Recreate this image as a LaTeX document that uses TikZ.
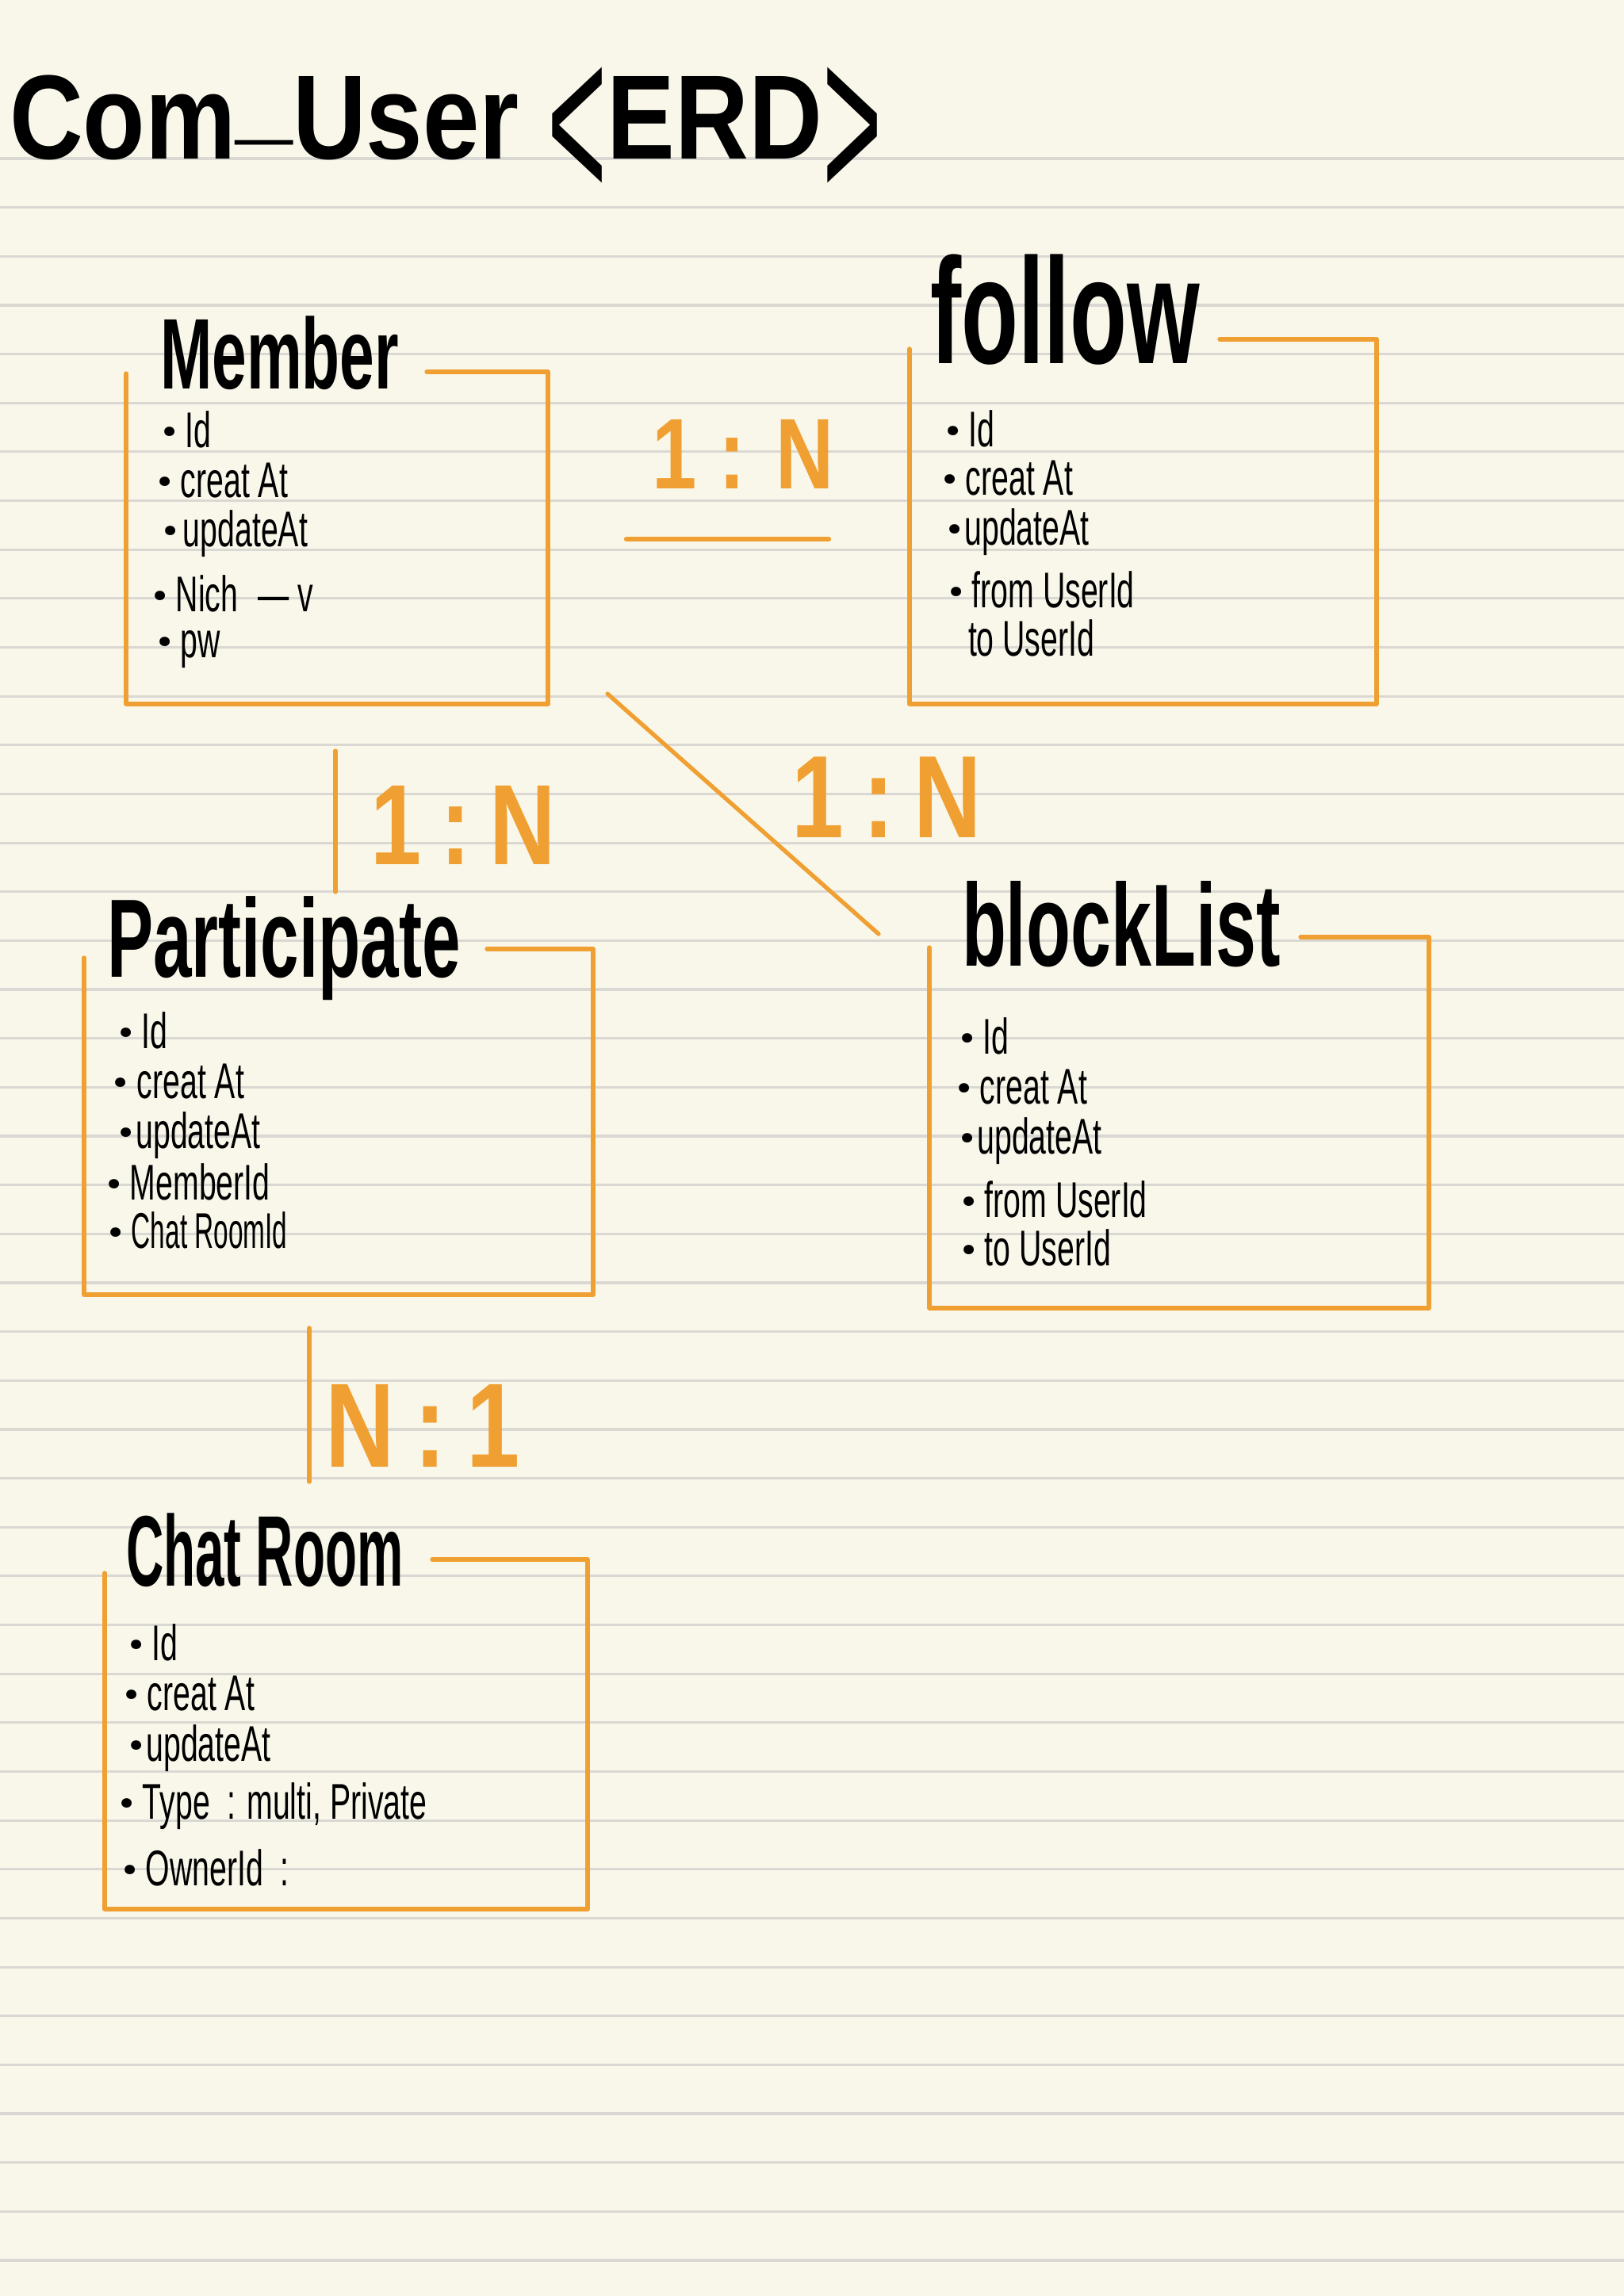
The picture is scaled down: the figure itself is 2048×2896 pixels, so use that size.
\documentclass[tikz,border=0pt]{standalone}
\usepackage{fontspec}
\usepackage{graphicx}
\newfontfamily\hand[FakeStretch=0.62]{Liberation Sans}
\newfontfamily\labfont[FakeStretch=0.8]{Liberation Sans}
\newfontfamily\titlefont{Liberation Sans}
\newfontfamily\dotfont{Poppins}
\newcommand\bul{{\dotfont\bfseries ·}}
\definecolor{paper}{RGB}{249,247,234}
\definecolor{ruled}{RGB}{218,216,210}
\definecolor{erdorange}{RGB}{240,160,50}
\tikzset{
  attr/.style={anchor=base west, inner sep=0pt, outer sep=0pt, text=black, font=\hand\fontsize{18}{20}\selectfont},
  enttitle/.style={anchor=base west, inner sep=0pt, outer sep=0pt, text=black},
  card/.style={anchor=base, inner sep=0pt, outer sep=0pt, text=erdorange},
  entbox/.style={draw=erdorange, line width=1.5pt, line cap=round, line join=round},
  relline/.style={draw=erdorange, line width=1.5pt, line cap=round},
  ruleline/.style={draw=ruled, line width=0.9pt},
}
\begin{document}
\begin{tikzpicture}[x=0.01cm, y=-0.01cm]
\useasboundingbox (0,0) rectangle (2048,2896);
\fill[paper] (0,0) rectangle (2048,2896);
\foreach \k in {0,...,43} {
  \draw[ruleline] (0,{200+61.65*\k}) -- (2048,{200+61.65*\k});
}

% main title
\node[enttitle, font=\titlefont\bfseries\fontsize{43}{48}\selectfont] (title) at (12,200)
  {\scalebox{0.85}[1]{Com\raisebox{10pt}{\_}User \raisebox{-15pt}{\scalebox{1}[1.9]{\mdseries <}}ERD\raisebox{-15pt}{\scalebox{1}[1.9]{\mdseries >}}}};

% ---------- Member ----------
\node[enttitle, font=\hand\bfseries\fontsize{36}{40}\selectfont] (memberT) at (202,490) {Member};
\coordinate (mTL) at (159,471);
\coordinate (mBL) at (159,888);
\coordinate (mBR) at (691,888);
\coordinate (mTR) at (691,469);
\coordinate (mTS) at (538,469);
\draw[entbox] (mTL) -- (mBL) -- (mBR) -- (mTR) -- (mTS);
\node[attr] (m1) at (204,564) {\bul{} Id};
\node[attr] (m2) at (198,627) {\bul{} creat At};
\node[attr] (m3) at (205,689) {\bul\kern2pt updateAt};
\node[attr] (m4) at (192,771) {\bul{} Nich\hspace{4pt} —\kern3pt v};
\node[attr] (m5) at (198,829) {\bul{} pw};

% ---------- follow ----------
\node[enttitle, font=\hand\bfseries\fontsize{54}{60}\selectfont] (followT) at (1173,458) {follow};
\coordinate (fTL) at (1147,440);
\coordinate (fBL) at (1147,888);
\coordinate (fBR) at (1736,888);
\coordinate (fTR) at (1736,428);
\coordinate (fTS) at (1538,428);
\draw[entbox] (fTL) -- (fBL) -- (fBR) -- (fTR) -- (fTS);
\node[attr] (f1) at (1192,563) {\bul{} Id};
\node[attr] (f2) at (1188,624) {\bul{} creat At};
\node[attr] (f3) at (1194,687) {\bul\kern1pt updateAt};
\node[attr] (f4) at (1196,766) {\bul{} from UserId};
\node[attr] (f5) at (1221,827) {to UserId};

% ---------- Participate ----------
\node[enttitle, font=\hand\bfseries\fontsize{40}{44}\selectfont] (partT) at (135,1232) {Participate};
\coordinate (pTL) at (106,1208);
\coordinate (pBL) at (106,1633);
\coordinate (pBR) at (748,1633);
\coordinate (pTR) at (748,1197);
\coordinate (pTS) at (614,1197);
\draw[entbox] (pTL) -- (pBL) -- (pBR) -- (pTR) -- (pTS);
\node[attr] (p1) at (149,1322) {\bul{} Id};
\node[attr] (p2) at (143,1385) {\bul{} creat At};
\node[attr] (p3) at (149,1448) {\bul\kern1pt updateAt};
\node[attr] (p4) at (134,1513) {\bul{} MemberId};
\node[attr] (p5) at (136,1574) {\bul{} \scalebox{0.85}[1]{Chat RoomId}};

% ---------- blockList ----------
\node[enttitle, font=\hand\bfseries\fontsize{42}{46}\selectfont] (blockT) at (1213,1218) {blockList};
\coordinate (bTL) at (1172,1195);
\coordinate (bBL) at (1172,1650);
\coordinate (bBR) at (1802,1650);
\coordinate (bTR) at (1802,1182);
\coordinate (bTS) at (1640,1182);
\draw[entbox] (bTL) -- (bBL) -- (bBR) -- (bTR) -- (bTS);
\node[attr] (b1) at (1210,1329) {\bul{} Id};
\node[attr] (b2) at (1206,1392) {\bul{} creat At};
\node[attr] (b3) at (1210,1455) {\bul\kern1pt updateAt};
\node[attr] (b4) at (1212,1535) {\bul{} from UserId};
\node[attr] (b5) at (1212,1596) {\bul{} to UserId};

% ---------- Chat Room ----------
\node[enttitle, font=\hand\bfseries\fontsize{36}{40}\selectfont] (chatT) at (159,2000) {\scalebox{0.835}[1]{Chat Room}};
\coordinate (cTL) at (132,1984);
\coordinate (cBL) at (132,2408);
\coordinate (cBR) at (741,2408);
\coordinate (cTR) at (741,1967);
\coordinate (cTS) at (545,1967);
\draw[entbox] (cTL) -- (cBL) -- (cBR) -- (cTR) -- (cTS);
\node[attr] (c1) at (162,2094) {\bul{} Id};
\node[attr] (c2) at (156,2157) {\bul{} creat At};
\node[attr] (c3) at (162,2221) {\bul\kern1pt updateAt};
\node[attr] (c4) at (150,2294) {\bul{} Type};
\node[attr] (c4v) at (286,2294) {: multi, Private};
\node[attr] (c5) at (154,2378) {\bul{} OwnerId\hspace{3pt} :};

% ---------- relationships ----------
\coordinate (mfA) at (790,680);
\coordinate (mfB) at (1045,680);
\draw[relline, line width=1.8pt] (mfA) -- (mfB);
\node[card, font=\labfont\bfseries\fontsize{36}{40}\selectfont] (mfL) at (937,616) {1 : N};

\coordinate (mpA) at (423,947);
\coordinate (mpB) at (423,1125);
\draw[relline] (mpA) -- (mpB);
\node[card, font=\labfont\bfseries\fontsize{41}{45}\selectfont] (mpL) at (584,1090) {1\,:\,N};

\coordinate (mbA) at (766,875);
\coordinate (mbB) at (1108,1178);
\draw[relline] (mbA) -- (mbB);
\node[card, font=\labfont\bfseries\fontsize{42}{46}\selectfont] (mbL) at (1118,1056) {1\,:\,N};

\coordinate (pcA) at (390,1675);
\coordinate (pcB) at (390,1869);
\draw[relline] (pcA) -- (pcB);
\node[card, font=\labfont\bfseries\fontsize{43}{47}\selectfont] (pcL) at (533,1850) {N\,:\,1};
\end{tikzpicture}
\end{document}
